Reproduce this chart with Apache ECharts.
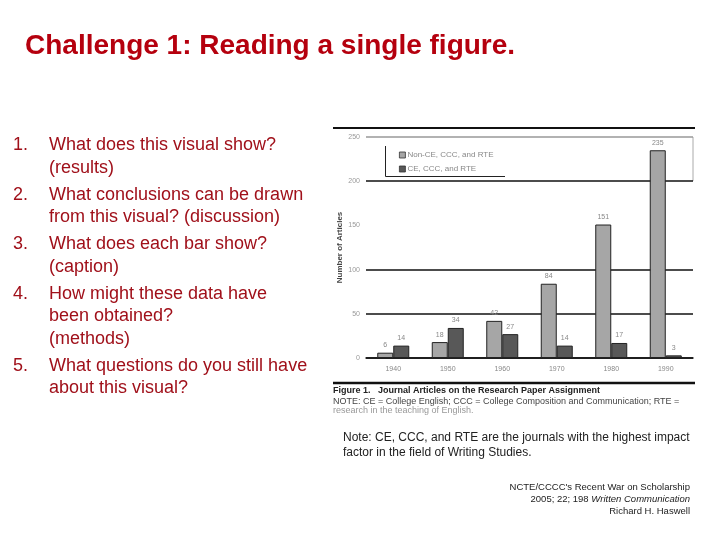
<!DOCTYPE html>
<html>
<head>
<meta charset="utf-8">
<script src="https://cdn.jsdelivr.net/npm/echarts@6/dist/echarts.min.js"></script>
<style>
  html, body { margin: 0; padding: 0; background: #fff; }
  #main { width: 720px; height: 540px; }
</style>
</head>
<body>
<div id="main"></div>
<script>
var decades = ['1940', '1950', '1960', '1970', '1980', '1990'];
var nonCore = [6, 18, 42, 84, 151, 235];   // Non-CE, CCC, and RTE
var core = [14, 34, 27, 14, 17, 3];        // CE, CCC, and RTE
var seriesNames = ['Non-CE, CCC, and RTE', 'CE, CCC, and RTE'];
var questions = [
  ['1.', 'What does this visual show?', '(results)'],
  ['2.', 'What conclusions can be drawn', 'from this visual? (discussion)'],
  ['3.', 'What does each bar show?', '(caption)'],
  ['4.', 'How might these data have', 'been obtained?', '(methods)'],
  ['5.', 'What questions do you still have', 'about this visual?']
];

var font = '"Liberation Sans", Arial, sans-serif';
var listColor = '#a0101a';

// slide title + numbered list
var graphics = [
  {
    type: 'text', left: 25, top: 32,
    style: { text: 'Challenge 1: Reading a single figure.', font: 'bold 28px ' + font, fill: '#b5000e' }
  }
];
var y = 136.5;
questions.forEach(function (q) {
  graphics.push({ type: 'text', left: 13, top: y, style: { text: q[0], font: '18px ' + font, fill: listColor } });
  for (var i = 1; i < q.length; i++) {
    graphics.push({ type: 'text', left: 49, top: y, style: { text: q[i], font: '18px ' + font, fill: listColor } });
    y += 22.5;
  }
  y += 4.5;
});

// rules and captions around the figure
graphics.push(
  { type: 'line', shape: { x1: 333, y1: 128, x2: 695, y2: 128 }, style: { stroke: '#111', lineWidth: 2 } },
  { type: 'line', shape: { x1: 693, y1: 137, x2: 693, y2: 181 }, style: { stroke: '#aaa', lineWidth: 1 } },
  // legend frame (left + bottom only)
  { type: 'polyline', shape: { points: [[385.5, 146], [385.5, 176.5], [505, 176.5]] }, style: { stroke: '#222', lineWidth: 1, fill: null } },
  { type: 'line', shape: { x1: 333, y1: 383, x2: 695, y2: 383 }, style: { stroke: '#111', lineWidth: 2.5 } },
  { type: 'text', left: 333, top: 386, style: { text: 'Figure 1.   Journal Articles on the Research Paper Assignment', font: 'bold 9px ' + font, fill: '#222' } },
  { type: 'text', left: 333, top: 397, style: { text: 'NOTE: CE = College English; CCC = College Composition and Communication; RTE =', font: '9px ' + font, fill: '#444' } },
  { type: 'text', left: 333, top: 406, style: { text: 'research in the teaching of English.', font: '9px ' + font, fill: '#999' } },
  { type: 'text', left: 343, top: 430, style: { text: 'Note: CE, CCC, and RTE are the journals with the highest impact\nfactor in the field of Writing Studies.', font: '12px ' + font, fill: '#222', lineHeight: 15 } },
  { type: 'text', right: 30, top: 482, style: { text: "NCTE/CCCC's Recent War on Scholarship", font: '9.5px ' + font, fill: '#222', align: 'right' } },
  { type: 'text', right: 30, top: 494, style: { text: '{n|2005; 22; 198 }{i|Written Communication}', fill: '#222', align: 'right', rich: { n: { font: '9.5px ' + font, fill: '#222' }, i: { font: 'italic 9.5px ' + font, fill: '#222' } } } },
  { type: 'text', right: 30, top: 506, style: { text: 'Richard H. Haswell', font: '9.5px ' + font, fill: '#222', align: 'right' } }
);

var myChart = echarts.init(document.getElementById('main'));
var option = {
  backgroundColor: '#fff',
  animation: false,
  textStyle: { fontFamily: font },
  grid: { left: 366, right: 27, top: 137, bottom: 182 },
  legend: {
    orient: 'vertical',
    left: 393, top: 147,
    padding: [4, 6, 4, 6],
    itemWidth: 6, itemHeight: 6, itemGap: 6,
    icon: 'rect',
    itemStyle: { borderColor: '#333', borderWidth: 0.8 },
    textStyle: { fontSize: 8, color: '#888', padding: [0, 0, 0, -3] },
    data: seriesNames
  },
  xAxis: {
    type: 'category',
    data: decades,
    axisLine: { lineStyle: { color: '#111', width: 1.5 } },
    axisTick: { show: false },
    axisLabel: { fontSize: 7, color: '#888', margin: 8 }
  },
  yAxis: {
    type: 'value',
    min: 0, max: 250, interval: 50,
    name: 'Number of Articles',
    nameLocation: 'middle',
    nameGap: 22,
    nameTextStyle: { fontSize: 8, fontWeight: 'bold', color: '#444' },
    axisLine: { show: false },
    axisTick: { show: false },
    axisLabel: { fontSize: 7, color: '#999', margin: 6 },
    splitLine: { lineStyle: { color: ['#111', '#111', '#111', 'rgba(0,0,0,0)', '#111', '#999'], width: 1.5 } }
  },
  series: [
    {
      name: seriesNames[0],
      type: 'bar',
      data: nonCore,
      barWidth: 16,
      barGap: '0%',
      itemStyle: { color: '#a6a6a6', borderColor: '#222', borderWidth: 1 },
      label: { show: true, position: 'top', fontSize: 7, color: '#888', distance: 4 }
    },
    {
      name: seriesNames[1],
      type: 'bar',
      data: core,
      barWidth: 16,
      itemStyle: { color: '#585858', borderColor: '#222', borderWidth: 1 },
      label: { show: true, position: 'top', fontSize: 7, color: '#888', distance: 4 }
    }
  ],
  graphic: graphics
};
myChart.setOption(option);
</script>
</body>
</html>
